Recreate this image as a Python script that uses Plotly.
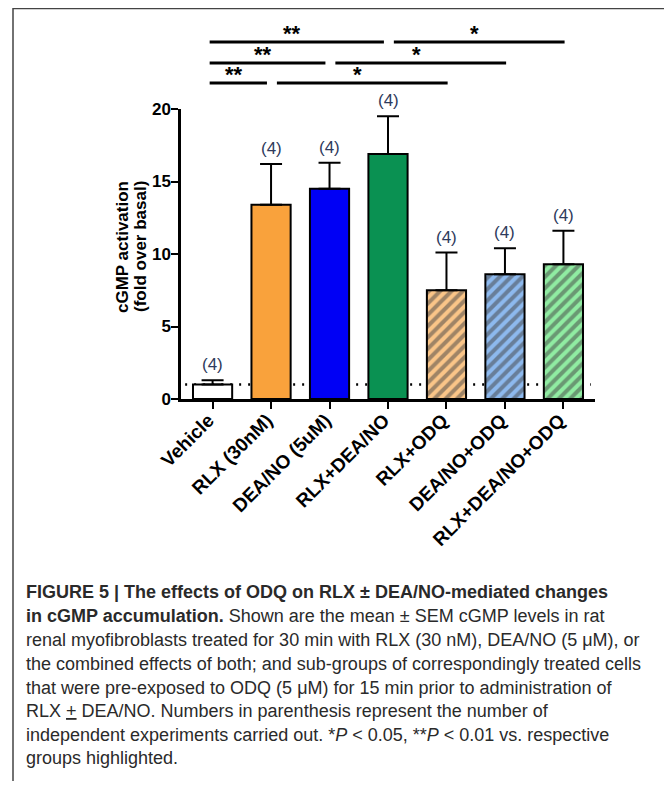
import plotly.graph_objects as go

# ---------------- data ----------------
categories = ["Vehicle", "RLX (30nM)", "DEA/NO (5uM)", "RLX+DEA/NO",
              "RLX+ODQ", "DEA/NO+ODQ", "RLX+DEA/NO+ODQ"]
means = [1.0, 13.4, 14.5, 16.9, 7.5, 8.6, 9.3]
sem = [0.3, 2.8, 1.8, 2.6, 2.6, 1.8, 2.3]
n_exp = [4, 4, 4, 4, 4, 4, 4]
fill_colors = ["#FFFFFF", "#F9A23C", "#0000F5", "#0A9152",
               "#FAC588", "#8DB9EE", "#90ECA2"]
hatch = ["", "", "", "", "/", "/", "/"]
basal_level = 1.0
y_ticks = [0, 5, 10, 15, 20]
# significance comparisons: (from index, to index, label, row)
comparisons = [
    (0, 3, "**", 3), (3, 6, "*", 3),
    (0, 2, "**", 2), (2, 5, "*", 2),
    (0, 1, "**", 1), (1, 4, "*", 1),
]
y_title_lines = ["cGMP activation", "(fold over basal)"]
caption_lines = [
    "<b>FIGURE 5 | The effects of ODQ on RLX ± DEA/NO-mediated changes</b>",
    "<b>in cGMP accumulation.</b> Shown are the mean ± SEM cGMP levels in rat",
    "renal myofibroblasts treated for 30 min with RLX (30 nM), DEA/NO (5 μM), or",
    "the combined effects of both; and sub-groups of correspondingly treated cells",
    "that were pre-exposed to ODQ (5 μM) for 15 min prior to administration of",
    "RLX <u>+</u> DEA/NO. Numbers in parenthesis represent the number of",
    "independent experiments carried out. *<i>P</i> &lt; 0.05, **<i>P</i> &lt; 0.01 vs. respective",
    "groups highlighted.",
]

# ---------------- geometry helpers ----------------
OFF = 8                      # default page body margin
W, H = 672 - OFF, 789 - 2 * OFF
L, T = 181 - OFF, 109 - OFF
R = W - (595 - OFF)
B = H - (399 - OFF)
PW, PH = W - L - R, H - T - B


def px_x(px):
    """page pixel (as in reference) -> paper x"""
    return (px - OFF - L) / PW


def px_y(py):
    return (H - B - (py - OFF)) / PH


FONT = "Liberation Sans"

fig = go.Figure()
fig.add_trace(go.Bar(
    x=categories, y=means,
    width=0.67,
    marker=dict(color=fill_colors,
                line=dict(color="black", width=2),
                pattern=dict(shape=hatch, fgcolor="black", size=8,
                             solidity=0.5, fillmode="overlay")),
    error_y=dict(type="data", array=sem, arrayminus=[0] * len(sem),
                 symmetric=False, color="black", thickness=2, width=11),
    showlegend=False,
))

shapes = []
# basal dotted line
shapes.append(dict(type="line", xref="paper", yref="y", x0=0.01, x1=0.99,
                   y0=basal_level, y1=basal_level, layer="below",
                   line=dict(color="black", width=2.5, dash="2px,7px")))

annotations = []
for i, (m, e, n) in enumerate(zip(means, sem, n_exp)):
    annotations.append(dict(x=i, y=m + e, xref="x", yref="y", text=f"({n})",
                            showarrow=False, yanchor="bottom", yshift=4,
                            font=dict(family=FONT, size=17, color="#2E3A5C")))

row_py = {3: 42, 2: 63, 1: 83}
for (i, j, lab, row) in comparisons:
    yv = px_y(row_py[row])
    if i == 0:
        x0, x1 = i - 0.05, j - 0.07
    else:
        x0, x1 = i + 0.1, j + 0.02
    shapes.append(dict(type="line", xref="x", yref="paper", x0=x0, x1=x1,
                       y0=yv, y1=yv, line=dict(color="black", width=3)))
    annotations.append(dict(x=(x0 + x1) / 2 - 0.08, y=yv, xref="x", yref="paper",
                            text=lab, showarrow=False, yanchor="bottom",
                            yshift=-6,
                            font=dict(family=FONT, size=22, color="black",
                                      weight="bold")))

# y-axis title (two rotated lines)
for txt, xc in zip(y_title_lines, [122, 140]):
    annotations.append(dict(x=px_x(xc), y=px_y(247), xref="paper", yref="paper",
                            text=txt, textangle=-90, showarrow=False,
                            xanchor="center", yanchor="middle",
                            font=dict(family=FONT, size=17, color="black",
                                      weight="bold")))

# figure border
shapes.append(dict(type="rect", xref="paper", yref="paper",
                   x0=px_x(13), x1=px_x(670), y0=px_y(830), y1=px_y(8.5),
                   line=dict(color="#444444", width=1.5)))

# caption
line_y = [592, 616, 640, 664, 688, 711, 735, 758]
for txt, yc in zip(caption_lines, line_y):
    annotations.append(dict(x=px_x(24), y=px_y(yc), xref="paper", yref="paper",
                            xanchor="left", yanchor="middle", text=txt,
                            showarrow=False, align="left",
                            font=dict(family=FONT, size=18, color="#2A2A2A")))

fig.update_layout(
    width=W, height=H,
    margin=dict(l=L, r=R, t=T, b=B, pad=0),
    paper_bgcolor="white", plot_bgcolor="white",
    shapes=shapes, annotations=annotations,
    xaxis=dict(type="category", range=[-0.54, 6.54], showline=True,
               linecolor="black", linewidth=2.5, ticks="outside", ticklen=7,
               tickwidth=2, tickcolor="black", tickangle=-45, showgrid=False,
               zeroline=False, ticklabelstandoff=-7, ticklabelshift=-4,
               tickfont=dict(family=FONT, size=19, color="black",
                             weight="bold")),
    yaxis=dict(range=[0, 20], tickvals=y_ticks, showline=True,
               linecolor="black", linewidth=2.5, ticks="outside", ticklen=7,
               tickwidth=2, tickcolor="black", showgrid=False, zeroline=False,
               ticklabelstandoff=-3,
               tickfont=dict(family=FONT, size=17, color="black",
                             weight="bold")),
)

fig.write_html("out.html")
